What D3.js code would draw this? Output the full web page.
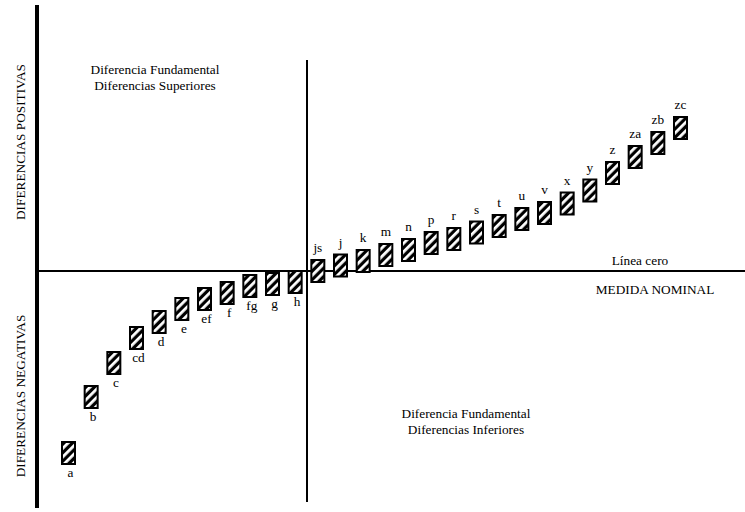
<!DOCTYPE html>
<html>
<head>
<meta charset="utf-8">
<script src="https://cdn.jsdelivr.net/npm/d3@7"></script>
<style>
  body { margin: 0; background: #fff; }
</style>
</head>
<body>
<svg width="745" height="512"></svg>
<script>
// categorias y diferencias (unidades arbitrarias, negativo = bajo la medida nominal)
var categories = ["a", "b", "c", "cd", "d", "e", "ef", "f", "fg", "g", "h",
                  "js", "j", "k", "m", "n", "p", "r", "s", "t", "u", "v", "x", "y", "z", "za", "zb", "zc"];
var differences = [-18.2, -12.6, -9.2, -6.7, -5.1, -3.8, -2.8, -2.2, -1.5, -1.3, -1.1,
                   0, 0.55, 1.0, 1.6, 2.1, 2.8, 3.2, 3.85, 4.5, 5.2, 5.8, 6.75, 8.05, 9.8, 11.4, 12.8, 14.3];
var yDomain = [-25, 25];

var font = "'Liberation Serif', 'Times New Roman', Times, serif";
var fs = 13.3;

var svg = d3.select("svg"),
    width = +svg.attr("width"),
    height = +svg.attr("height");

var x = d3.scalePoint().domain(categories).range([68.5, 680.5]),
    y = d3.scaleLinear().domain(yDomain).range([521, 21]);

var data = categories.map(function(c, i) { return {name: c, value: differences[i]}; });

// rayado de las cajas
var defs = svg.append("defs");
var pat = defs.append("pattern")
    .attr("id", "hatch")
    .attr("patternUnits", "userSpaceOnUse")
    .attr("width", 6)
    .attr("height", 6)
    .attr("patternTransform", "rotate(45)");
pat.append("rect").attr("width", 6).attr("height", 6).attr("fill", "#000");
pat.append("rect").attr("x", 0).attr("width", 2.8).attr("height", 6).attr("fill", "#fff");

var zeroY = y(0);

// eje izquierdo grueso
svg.append("line")
    .attr("x1", 37).attr("x2", 37)
    .attr("y1", 5).attr("y2", 508)
    .attr("stroke", "#000").attr("stroke-width", 4);

// linea cero
svg.append("line")
    .attr("x1", 39).attr("x2", width)
    .attr("y1", zeroY).attr("y2", zeroY)
    .attr("stroke", "#000").attr("stroke-width", 2);

// linea vertical central
svg.append("line")
    .attr("x1", 307).attr("x2", 307)
    .attr("y1", 60).attr("y2", 502)
    .attr("stroke", "#000").attr("stroke-width", 2);

var bw = 13, bh = 22;

svg.selectAll(".box")
    .data(data)
    .enter().append("rect")
    .attr("class", "box")
    .attr("x", function(d) { return x(d.name) - bw / 2; })
    .attr("y", function(d) { return y(d.value) - bh / 2; })
    .attr("width", bw)
    .attr("height", bh)
    .attr("fill", "url(#hatch)")
    .attr("stroke", "#000")
    .attr("stroke-width", 2);

svg.selectAll(".lbl")
    .data(data)
    .enter().append("text")
    .attr("class", "lbl")
    .attr("text-anchor", "middle")
    .attr("font-family", font)
    .attr("font-size", fs)
    .attr("x", function(d) { return x(d.name) + (d.value < 0 ? 2 : 0); })
    .attr("y", function(d) {
        return d.value < 0 ? y(d.value) + bh / 2 + 13 : y(d.value) - bh / 2 - 8;
    })
    .text(function(d) { return d.name; });

// textos
function txt(tx, ty, s, rot) {
    var t = svg.append("text")
        .attr("text-anchor", "middle")
        .attr("font-family", font)
        .attr("font-size", fs)
        .text(s);
    if (rot) t.attr("transform", "translate(" + tx + "," + ty + ") rotate(-90)");
    else t.attr("x", tx).attr("y", ty);
    return t;
}

txt(155, 74, "Diferencia Fundamental");
txt(155, 90, "Diferencias Superiores");
txt(466, 418, "Diferencia Fundamental");
txt(466, 434, "Diferencias Inferiores");
txt(640, 265, "Línea cero");
txt(655, 294, "MEDIDA NOMINAL");
txt(25, 142, "DIFERENCIAS POSITIVAS", true);
txt(25, 396, "DIFERENCIAS NEGATIVAS", true);
</script>
</body>
</html>
